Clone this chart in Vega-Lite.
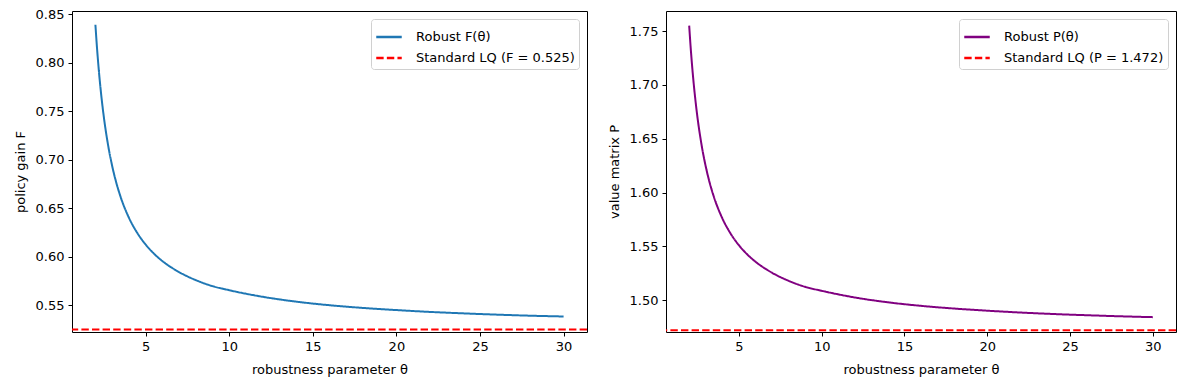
{
  "$schema": "https://vega.github.io/schema/vega-lite/v6.json",
  "padding": {"left": 13, "top": 7, "right": 14, "bottom": 5},
  "background": "white",
  "spacing": 18,
  "config": {
    "font": "DejaVu Sans",
    "view": {"stroke": "black", "strokeWidth": 1},
    "axis": {
      "domain": false, "grid": false, "tickColor": "black", "tickSize": 4, "tickWidth": 1,
      "labelColor": "black", "labelFontSize": 13, "labelPadding": 4, "labelFont": "DejaVu Sans",
      "titleColor": "black", "titleFontSize": 13, "titleFontWeight": "normal", "titleFont": "DejaVu Sans"
    },
    "legend": {
      "orient": "top-right", "offset": 8, "title": null,
      "labelFontSize": 13, "labelFont": "DejaVu Sans", "labelColor": "black",
      "symbolType": "stroke", "symbolStrokeWidth": 2.5, "symbolSize": 650,
      "strokeColor": "#d0d0d0", "fillColor": "white", "cornerRadius": 3, "padding": 4,
      "rowPadding": -3, "labelOffset": 13
    }
  },
  "datasets": {
    "F": [
      {"theta": 2, "value": 0.839}, {"theta": 2.1, "value": 0.8141}, {"theta": 2.2, "value": 0.7929},
      {"theta": 2.35, "value": 0.7663}, {"theta": 2.5, "value": 0.7445}, {"theta": 2.75, "value": 0.7158},
      {"theta": 3, "value": 0.6937}, {"theta": 3.25, "value": 0.6762}, {"theta": 3.5, "value": 0.662},
      {"theta": 4, "value": 0.6403}, {"theta": 4.5, "value": 0.6246}, {"theta": 5, "value": 0.6126},
      {"theta": 5.5, "value": 0.6032}, {"theta": 6, "value": 0.5956}, {"theta": 7, "value": 0.5842},
      {"theta": 8, "value": 0.5759}, {"theta": 9, "value": 0.5697}, {"theta": 10, "value": 0.5655},
      {"theta": 12, "value": 0.5587}, {"theta": 14, "value": 0.5537}, {"theta": 16, "value": 0.55},
      {"theta": 18, "value": 0.5472}, {"theta": 20, "value": 0.545}, {"theta": 22, "value": 0.5431},
      {"theta": 24, "value": 0.5416}, {"theta": 26, "value": 0.5403}, {"theta": 28, "value": 0.5392},
      {"theta": 30, "value": 0.5384}
    ],
    "P": [
      {"theta": 2, "value": 1.7551}, {"theta": 2.1, "value": 1.7326}, {"theta": 2.2, "value": 1.7135},
      {"theta": 2.35, "value": 1.6896}, {"theta": 2.5, "value": 1.6699}, {"theta": 2.75, "value": 1.6441},
      {"theta": 3, "value": 1.6242}, {"theta": 3.25, "value": 1.6084}, {"theta": 3.5, "value": 1.5956},
      {"theta": 4, "value": 1.5761}, {"theta": 4.5, "value": 1.5619}, {"theta": 5, "value": 1.5511},
      {"theta": 5.5, "value": 1.5426}, {"theta": 6, "value": 1.5358}, {"theta": 7, "value": 1.5255},
      {"theta": 8, "value": 1.518}, {"theta": 9, "value": 1.5124}, {"theta": 10, "value": 1.5087},
      {"theta": 12, "value": 1.5025}, {"theta": 14, "value": 1.498}, {"theta": 16, "value": 1.4947},
      {"theta": 18, "value": 1.4922}, {"theta": 20, "value": 1.4902}, {"theta": 22, "value": 1.4885},
      {"theta": 24, "value": 1.4871}, {"theta": 26, "value": 1.486}, {"theta": 28, "value": 1.485},
      {"theta": 30, "value": 1.4842}
    ]
  },
  "hconcat": [
    {
      "width": 515, "height": 321,
      "layer": [
        {
          "data": {"name": "F"},
          "transform": [{"calculate": "'Robust F(θ)'", "as": "series"}],
          "mark": {"type": "line", "strokeWidth": 2, "clip": true, "interpolate": "monotone"},
          "encoding": {
            "x": {"field": "theta", "type": "quantitative", "scale": {"domain": [0.6, 31.4], "nice": false, "zero": false},
                  "axis": {"values": [5, 10, 15, 20, 25, 30], "title": "robustness parameter θ", "titlePadding": 10}},
            "y": {"field": "value", "type": "quantitative", "scale": {"domain": [0.5224, 0.8532], "nice": false, "zero": false},
                  "axis": {"values": [0.55, 0.6, 0.65, 0.7, 0.75, 0.8, 0.85], "format": ".2f", "title": "policy gain F", "titlePadding": 8}},
            "color": {"field": "series", "type": "nominal", "scale": {"domain": ["Robust F(θ)", "Standard LQ (F = 0.525)"], "range": ["#1f77b4", "red"]}},
            "strokeDash": {"field": "series", "type": "nominal", "scale": {"domain": ["Robust F(θ)", "Standard LQ (F = 0.525)"], "range": [[1, 0], [7.4, 3.2]]}}
          }
        },
        {
          "data": {"values": [{"level": 0.525, "series": "Standard LQ (F = 0.525)"}]},
          "mark": {"type": "rule", "strokeWidth": 2},
          "encoding": {
            "y": {"field": "level", "type": "quantitative"},
            "color": {"field": "series", "type": "nominal"},
            "strokeDash": {"field": "series", "type": "nominal"}
          }
        }
      ]
    },
    {
      "width": 510, "height": 321,
      "layer": [
        {
          "data": {"name": "P"},
          "transform": [{"calculate": "'Robust P(θ)'", "as": "series2"}],
          "mark": {"type": "line", "strokeWidth": 2, "clip": true, "interpolate": "monotone"},
          "encoding": {
            "x": {"field": "theta", "type": "quantitative", "scale": {"domain": [0.6, 31.4], "nice": false, "zero": false},
                  "axis": {"values": [5, 10, 15, 20, 25, 30], "title": "robustness parameter θ", "titlePadding": 10}},
            "y": {"field": "value", "type": "quantitative", "scale": {"domain": [1.4704, 1.7687], "nice": false, "zero": false},
                  "axis": {"values": [1.5, 1.55, 1.6, 1.65, 1.7, 1.75], "format": ".2f", "title": "value matrix P", "titlePadding": 8}},
            "color": {"field": "series2", "type": "nominal", "scale": {"domain": ["Robust P(θ)", "Standard LQ (P = 1.472)"], "range": ["purple", "red"]}},
            "strokeDash": {"field": "series2", "type": "nominal", "scale": {"domain": ["Robust P(θ)", "Standard LQ (P = 1.472)"], "range": [[1, 0], [7.4, 3.2]]}}
          }
        },
        {
          "data": {"values": [{"level": 1.472, "series2": "Standard LQ (P = 1.472)"}]},
          "mark": {"type": "rule", "strokeWidth": 2},
          "encoding": {
            "y": {"field": "level", "type": "quantitative"},
            "color": {"field": "series2", "type": "nominal"},
            "strokeDash": {"field": "series2", "type": "nominal"}
          }
        }
      ]
    }
  ],
  "resolve": {"scale": {"color": "independent", "strokeDash": "independent", "x": "independent", "y": "independent"}, "legend": {"color": "independent", "strokeDash": "independent"}}
}
